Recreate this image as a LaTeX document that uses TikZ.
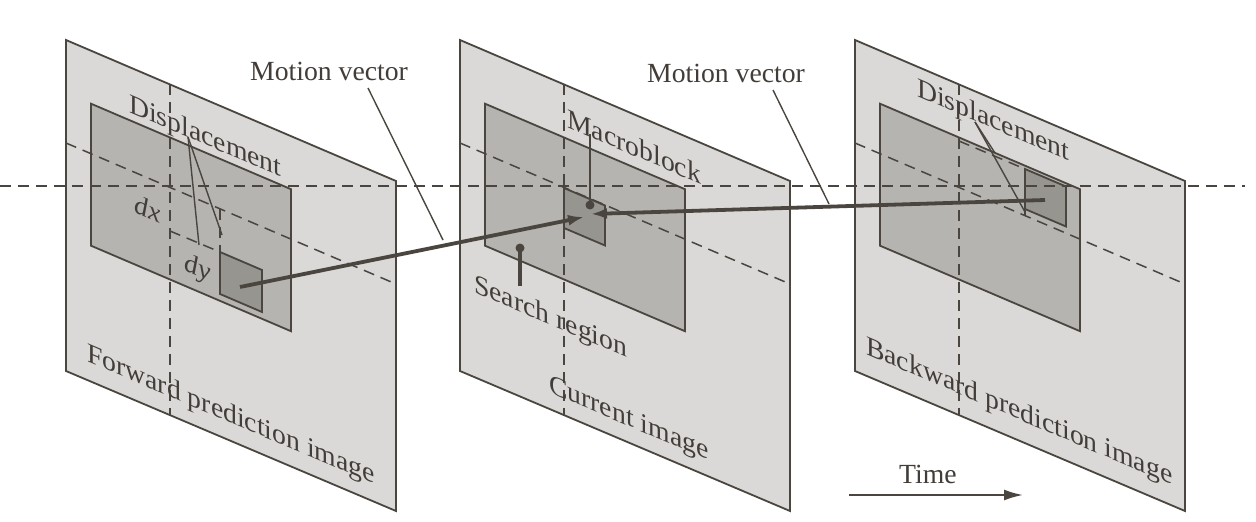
\documentclass[tikz,border=0pt]{standalone}
\usepackage{fontspec}
\setmainfont{Liberation Serif}
\usetikzlibrary{arrows.meta}
\definecolor{pfill}{RGB}{218,217,215}
\definecolor{rfill}{RGB}{181,180,176}
\definecolor{bfill}{RGB}{150,149,144}
\definecolor{ink}{RGB}{74,69,63}
\definecolor{tink}{RGB}{66,61,56}
\begin{document}
\begin{tikzpicture}[x=1pt,y=-1pt,
 panel/.style={fill=pfill, draw=ink, line width=1.8pt},
 sregion/.style={fill=rfill, draw=ink, line width=1.8pt},
 mblock/.style={fill=bfill, draw=ink, line width=1.8pt},
 axisline/.style={draw=ink, line width=1.5pt, dash pattern=on 11pt off 7pt},
 leader/.style={draw=ink, line width=1.4pt},
 vec/.style={draw=ink, line width=3.8pt, -{Latex[length=16pt,width=11pt]}},
 lab/.style={text=tink, font=\fontsize{27.7}{32}\selectfont, inner sep=0pt, anchor=base west},
 onplane/.style={lab, yslant=-0.4273, transform shape}]
\useasboundingbox (0,0) rectangle (1256,522);
% panels
\foreach \x in {66,460,855}{
  \draw[panel] (\x,40) -- (\x+330,181) -- (\x+330,511) -- (\x,371) -- cycle;
  \draw[sregion] (\x+25,103.7) -- (\x+225,189.2) -- (\x+225,331.2) -- (\x+25,245.7) -- cycle;
}
% macroblocks
\draw[mblock] (220,252) -- (262,270) -- (262,312) -- (220,294) -- cycle;
\draw[mblock] (564,188) -- (605,205.5) -- (605,245.5) -- (564,228) -- cycle;
\draw[mblock] (1025,169) -- (1066,186.5) -- (1066,226.5) -- (1025,209) -- cycle;
% axes in panels
\foreach \x in {66,460,855}{
  \draw[axisline] (\x+104,84.4) -- (\x+104,415.4);
  \draw[axisline] (\x,143) -- (\x+330,284);
}
% displacement markers
\draw[axisline] (170,231) -- (220,252);
\draw[axisline] (220,208.5) -- (220,252);
\draw[axisline] (959,141) -- (1025,169);
\draw[axisline] (1025,169) -- (1025,216);
% global horizontal axis
\draw[axisline] (0,186) -- (1245,186);
% labels
\node[lab] (mvA) at (250,80) {Motion vector};
\node[lab] (mvB) at (647,82) {Motion vector};
\node[onplane] (dispA) at (129,112) {Displacement};
\node[onplane] (dx) at (134,212) {\textit{dx}};
\node[onplane] (dy) at (184,270) {\textit{dy}};
\node[onplane] (fwd) at (87,361) {Forward prediction image};
\node[onplane] (mb) at (567,127) {Macroblock};
\node[onplane] (sr) at (474,292) {Search region};
\node[onplane] (cur) at (549,392) {Current image};
\node[onplane] (dispB) at (917,96) {Displacement};
\node[onplane] (bwd) at (866,354) {Backward prediction image};
\node[lab] (time) at (899,483) {Time};
% leader coordinates
\coordinate (mvAa) at (368,88);  \coordinate (mvAb) at (443,240);
\coordinate (mvBa) at (773,90);  \coordinate (mvBb) at (829,204);
\coordinate (dAa) at (188,137);  \coordinate (dAb) at (199,245); \coordinate (dAc) at (222,235);
\coordinate (dBa) at (975,122);  \coordinate (dBb) at (1025,212); \coordinate (dBc) at (995,153);
\coordinate (mbA) at (590,134);  \coordinate (mbdot) at (590,205);
\coordinate (srdot) at (520,248); \coordinate (srA) at (520,286);
\draw[leader] (mvAa) -- (mvAb);
\draw[leader] (mvBa) -- (mvBb);
\draw[leader] (dAa) -- (dAb);
\draw[leader] (dAa) -- (dAc);
\draw[leader] (dBa) -- (dBb);
\draw[leader] (dBa) -- (dBc);
\draw[leader] (mbA) -- (mbdot);
\fill[ink] (mbdot) circle (4.5pt);
\draw[ink, line width=3.5pt] (srdot) -- (srA);
\fill[ink] (srdot) circle (4.5pt);
% motion vectors
\coordinate (vA0) at (240,287); \coordinate (vA1) at (584,217);
\coordinate (vB0) at (1045,200); \coordinate (vB1) at (591,214);
\draw[vec] (vA0) -- (vA1);
\draw[vec] (vB0) -- (vB1);
% time arrow
\coordinate (t0) at (849,495); \coordinate (t1) at (1023,495);
\draw[ink, line width=2pt, -{Latex[length=19pt,width=11pt]}] (t0) -- (t1);
\end{tikzpicture}
\end{document}
